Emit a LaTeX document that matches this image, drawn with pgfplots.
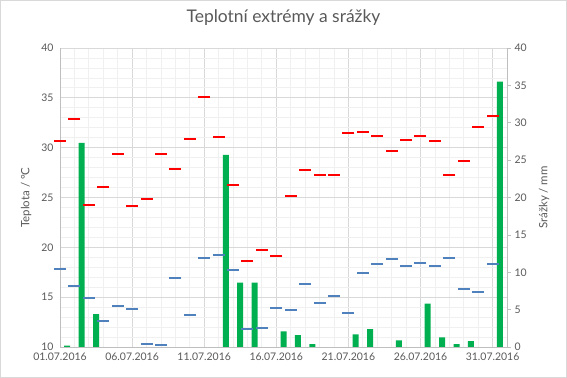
\documentclass[border=0pt]{standalone}
\usepackage{fontspec}
\setmainfont{Lato}
\usepackage{pgfplots}
\pgfplotsset{compat=1.18}
\usepackage{pgfplotstable}
\definecolor{txt}{HTML}{595959}
\definecolor{majgrid}{HTML}{D9D9D9}
\definecolor{mingrid}{HTML}{F0F0F0}
\definecolor{axgray}{HTML}{BFBFBF}
\definecolor{tmaxc}{HTML}{FF0000}
\definecolor{tminc}{HTML}{4F81BD}
\definecolor{rainc}{HTML}{00B050}

\pgfplotstableread{
day tmax tmin rain
1 30.7 17.8 0.2
2 32.9 16.1 27.3
3 24.2 14.9 4.4
4 26.1 12.6 0
5 29.4 14.1 0
6 24.1 13.8 0
7 24.8 10.3 0
8 29.4 10.2 0
9 27.9 16.9 0
10 30.9 13.2 0
11 35.1 18.9 0
12 31.1 19.2 25.7
13 26.3 17.7 8.6
14 18.6 11.8 8.6
15 19.7 11.9 0
16 19.1 13.9 2.1
17 25.2 13.7 1.6
18 27.8 16.3 0.4
19 27.3 14.4 0
20 27.3 15.1 0
21 31.5 13.4 1.7
22 31.6 17.4 2.4
23 31.2 18.3 0
24 29.7 18.8 0.9
25 30.8 18.1 0
26 31.2 18.4 5.8
27 30.7 18.1 1.3
28 27.3 18.9 0.4
29 28.7 15.8 0.8
30 32.1 15.5 0
31 33.2 18.3 35.5
}\data

\begin{document}
\begin{tikzpicture}
\useasboundingbox (0,0) rectangle (567bp,378bp);
\draw[majgrid, line width=0.75bp] (0.5bp,0.5bp) rectangle (566.5bp,377.5bp);
\pgfplotsset{base/.style={scale only axis, width=447bp, height=299bp,
  at={(60bp,31bp)}, anchor=south west, xmin=1, xmax=32,
  tick label style={font=\fontsize{10.5}{12}\selectfont, text=txt},
  label style={font=\fontsize{11.5}{13}\selectfont, text=txt},
  /pgf/number format/assume math mode=true}}
\begin{axis}[base, ymin=10, ymax=40,
  axis x line*=bottom, axis y line*=left,
  axis line style={axgray, line width=0.75bp},
  xtick={1,6,...,31},
  xticklabels={01.07.2016,06.07.2016,11.07.2016,16.07.2016,21.07.2016,26.07.2016,31.07.2016},
  minor x tick num=4,
  ytick={10,15,...,40}, minor y tick num=4,
  grid=both,
  major grid style={majgrid, line width=0.75bp},
  minor grid style={mingrid, line width=0.75bp},
  major tick length=0pt, minor tick length=0pt,
  xticklabel style={yshift=-2bp},
  yticklabel style={xshift=-3bp},
  title={Teplotní extrémy a srážky},
  title style={font=\fontsize{17.5}{20}\selectfont, text=txt, at={(0.5,1)}, anchor=base, yshift=20bp},
  ylabel={Teplota / °C},
  ylabel style={at={(axis description cs:-0.076,0.5)}, anchor=center},
]
\end{axis}
\begin{axis}[base, ymin=0, ymax=40,
  axis y line*=right, axis x line=none,
  axis line style={axgray, line width=0.75bp},
  ytick={0,5,...,40}, xtick=\empty,
  major tick length=4bp, tick align=outside,
  tick style={axgray, line width=0.75bp},
  ylabel={Srážky / mm},
  ylabel style={at={(axis description cs:1.083,0.5)}, anchor=center},
]
\addplot[ybar, bar width=6bp, fill=rainc, draw=none] table[x expr=\thisrow{day}+0.5, y=rain]{\data};
\end{axis}
\begin{axis}[base, ymin=10, ymax=40, hide axis, clip=false]
\addplot[only marks, mark=-, mark size=6bp, mark options={tmaxc, line width=2bp}] table[x=day, y=tmax]{\data};
\addplot[only marks, mark=-, mark size=6bp, mark options={tminc, line width=2bp}] table[x=day, y=tmin]{\data};
\end{axis}
\end{tikzpicture}
\end{document}
